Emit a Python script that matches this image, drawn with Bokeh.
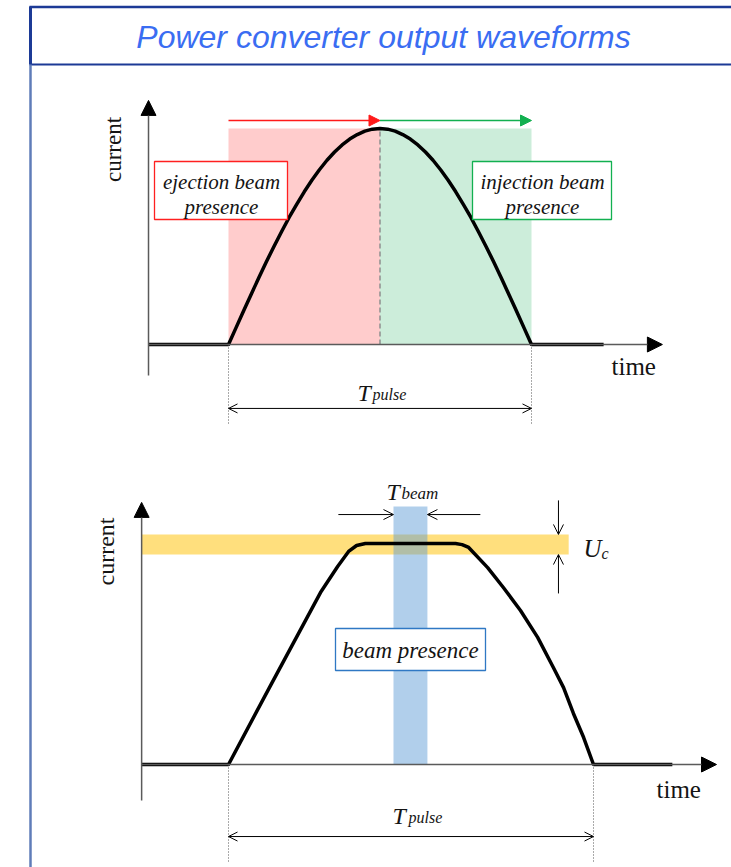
import math

from bokeh.core.properties import value
from bokeh.embed import file_html
from bokeh.models import Arrow, NormalHead, OpenHead, Range1d
from bokeh.plotting import figure
from bokeh.resources import INLINE

# ---------------------------------------------------------------------------
# Waveform data: time in units of T_pulse (0 = pulse start, 1 = pulse end),
# current normalised to the peak / flat-top level.
# ---------------------------------------------------------------------------

# Upper sketch: half-sine pulse, flat zero before and after
top_t = [-0.264, 0.000, 0.025, 0.050, 0.075, 0.100, 0.125, 0.150, 0.175, 0.200,
         0.225, 0.250, 0.275, 0.300, 0.325, 0.350, 0.375, 0.400, 0.425, 0.450,
         0.475, 0.500, 0.525, 0.550, 0.575, 0.600, 0.625, 0.650, 0.675, 0.700,
         0.725, 0.750, 0.775, 0.800, 0.825, 0.850, 0.875, 0.900, 0.925, 0.950,
         0.975, 1.000, 1.238]
top_i = [0.000, 0.000, 0.078, 0.156, 0.233, 0.309, 0.383, 0.454, 0.522, 0.588,
         0.649, 0.707, 0.760, 0.809, 0.853, 0.891, 0.924, 0.951, 0.972, 0.988,
         0.997, 1.000, 0.997, 0.988, 0.972, 0.951, 0.924, 0.891, 0.853, 0.809,
         0.760, 0.707, 0.649, 0.588, 0.522, 0.454, 0.383, 0.309, 0.233, 0.156,
         0.078, 0.000, 0.000]
top_split = 0.5          # ejection / injection boundary at the peak

# Lower sketch: ramp up, flat top, ramp down
bot_t = [-0.238, 0.000, 0.115, 0.252, 0.299, 0.329, 0.351, 0.375,
         0.622, 0.640, 0.658, 0.710, 0.753, 0.800, 0.847, 0.890, 0.918,
         0.945, 0.973, 1.000, 1.216]
bot_i = [0.000, 0.000, 0.357, 0.778, 0.896, 0.964, 0.991, 1.000,
         1.000, 0.995, 0.982, 0.891, 0.801, 0.697, 0.575, 0.439, 0.348,
         0.231, 0.122, 0.000, 0.000]
beam_window = [0.452, 0.545]     # T_beam
uc_band = [0.950, 1.041]         # U_c tolerance band on the flat top

# ---------------------------------------------------------------------------
# Canvas
# ---------------------------------------------------------------------------
W, H = 731, 867
SERIF = value("Liberation Serif")
INK = "#141414"

p = figure(width=W, height=H, x_range=Range1d(0, W), y_range=Range1d(H, 0),
           x_axis_type=None, y_axis_type=None, toolbar_location=None,
           output_backend="svg", min_border=0, outline_line_color=None,
           background_fill_color="white", border_fill_color="white")
p.grid.grid_line_color = None


def panel(name, px_t0, px_t1, py_i0, py_i1):
    """Register ranges so that t=0/1 and i=0/1 land on the given canvas pixels."""
    sx = px_t1 - px_t0
    sy = py_i0 - py_i1
    p.extra_x_ranges[name] = Range1d(-px_t0 / sx, (W - px_t0) / sx)
    p.extra_y_ranges[name] = Range1d((py_i0 - H) / sy, py_i0 / sy)
    return dict(x_range_name=name, y_range_name=name)


TOP = panel("top", 228, 531, 344, 128)
BOT = panel("bot", 228, 593, 764, 543)

# ---- frame and title bar ---------------------------------------------------
p.segment(x0=[29, 29], y0=[6.5, 64], x1=[W, W], y1=[6.5, 64],
          line_color="#1c3a96", line_width=[2.5, 2])
p.segment(x0=[30], y0=[6], x1=[30], y1=[64], line_color="#1c3a96", line_width=3)
p.segment(x0=[30], y0=[64], x1=[30], y1=[H], line_color="#5f7cb8", line_width=2.5)
p.text(x=[383], y=[36], text=["Power converter output waveforms"],
       text_font=value("Liberation Sans"), text_font_style="italic",
       text_font_size="32px", text_color="#3a6df2",
       text_align="center", text_baseline="middle")


def axes(r, t0, t_end, i_low, i_top):
    """Thin grey axes with filled black arrow heads."""
    p.add_layout(Arrow(x_start=t0, y_start=i_low, x_end=t0, y_end=i_top,
                       line_color="#5a5a5a", line_width=1.5,
                       end=NormalHead(size=15, fill_color="black", line_color="black"), **r))
    p.add_layout(Arrow(x_start=t0, y_start=0, x_end=t_end, y_end=0,
                       line_color="#5a5a5a", line_width=1.5,
                       end=NormalHead(size=15, fill_color="black", line_color="black"), **r))


def span_arrow(r, x0, y0, x1, y1, both=False, size=9):
    head = dict(size=size, line_color="black", line_width=1)
    p.add_layout(Arrow(x_start=x0, y_start=y0, x_end=x1, y_end=y1,
                       line_color="black", line_width=1,
                       start=OpenHead(**head) if both else None,
                       end=OpenHead(**head), **r))


def box(left, right, top, bottom, color):
    p.quad(left=[left], right=[right], top=[top], bottom=[bottom],
           fill_color="white", line_color=color, line_width=1.3)


def label(x, y, s, size, style="normal", align="left", angle=0.0):
    p.text(x=[x], y=[y], text=[s], text_font=SERIF, text_font_style=style,
           text_font_size=f"{size}px", text_color=INK, text_align=align,
           text_baseline="alphabetic", angle=angle)


# ---------------------------------------------------------------------------
# Upper sketch
# ---------------------------------------------------------------------------
p.quad(left=[0], right=[top_split], bottom=[0], top=[1], fill_color="#ffcccc",
       line_color=None, **TOP)
p.quad(left=[top_split], right=[1], bottom=[0], top=[1], fill_color="#ccedda",
       line_color=None, **TOP)
p.segment(x0=[top_split], y0=[0], x1=[top_split], y1=[1], line_color="#8f8f8f",
          line_width=1.5, line_dash="5 3", **TOP)

axes(TOP, top_t[0], 1.432, -0.144, 1.13)
p.line(top_t, top_i, line_color="black", line_width=3.5, line_join="round", **TOP)

# beam-presence direction arrows above the pulse
p.add_layout(Arrow(x_start=0, y_start=1.037, x_end=top_split, y_end=1.037,
                   line_color="#ff1a1a", line_width=1.3,
                   end=NormalHead(size=11, fill_color="#ff1a1a", line_color="#ff1a1a"), **TOP))
p.add_layout(Arrow(x_start=top_split, y_start=1.037, x_end=1, y_end=1.037,
                   line_color="#12b050", line_width=1.3,
                   end=NormalHead(size=11, fill_color="#12b050", line_color="#12b050"), **TOP))

# T_pulse dimension
p.segment(x0=[0, 1], y0=[0, 0], x1=[0, 1], y1=[-0.375, -0.375], line_color="#555555",
          line_width=1, line_dash="1 2", **TOP)
span_arrow(TOP, 0, -0.296, 1, -0.296, both=True)
label(357, 392, "T", 24, "italic")
label(372, 394, "pulse", 16, "italic")

box(154, 287, 161, 219, "#ff2020")
label(221, 181, "ejection beam", 21, "italic", "center")
label(221, 206, "presence", 21, "italic", "center")
box(472, 611, 161, 219, "#12b050")
label(542, 181, "injection beam", 21, "italic", "center")
label(542, 206, "presence", 21, "italic", "center")

label(113, 149, "current", 23, angle=math.pi / 2, align="center")
label(611, 366, "time", 25)

# ---------------------------------------------------------------------------
# Lower sketch
# ---------------------------------------------------------------------------
p.quad(left=[bot_t[0]], right=[0.932], bottom=[uc_band[0]], top=[uc_band[1]],
       fill_color="#ffd966", fill_alpha=0.85, line_color=None, **BOT)
p.quad(left=[beam_window[0]], right=[beam_window[1]], bottom=[0], top=[1.167],
       fill_color="#5b9bd5", fill_alpha=0.48, line_color=None, **BOT)

axes(BOT, bot_t[0], 1.337, -0.163, 1.186)
p.line(bot_t, bot_i, line_color="black", line_width=3.5, line_join="round", **BOT)

# T_beam arrows pointing at the beam window edges
span_arrow(BOT, 0.301, 1.131, beam_window[0], 1.131, size=10)
span_arrow(BOT, 0.690, 1.131, beam_window[1], 1.131, size=10)
label(386, 491, "T", 24, "italic")
label(401, 493, "beam", 17, "italic")

# U_c arrows pointing at the band edges
span_arrow(BOT, 0.904, 1.195, 0.904, uc_band[1], size=10)
span_arrow(BOT, 0.904, 0.774, 0.904, uc_band[0], size=10)
label(583, 548, "U", 25, "italic")
label(601, 553, "c", 16, "italic")

box(335, 485, 628, 670, "#2f78c4")
label(410, 650, "beam presence", 23, "italic", "center")

# T_pulse dimension
p.segment(x0=[0, 1], y0=[0, 0], x1=[0, 1], y1=[-0.443, -0.443], line_color="#555555",
          line_width=1, line_dash="1 2", **BOT)
span_arrow(BOT, 0, -0.326, 1, -0.326, both=True)
label(392, 815, "T", 24, "italic")
label(408, 817, "pulse", 16, "italic")

label(105, 551, "current", 24, angle=math.pi / 2, align="center")
label(656, 789, "time", 25)

open("out.html", "w").write(file_html(p, INLINE))
